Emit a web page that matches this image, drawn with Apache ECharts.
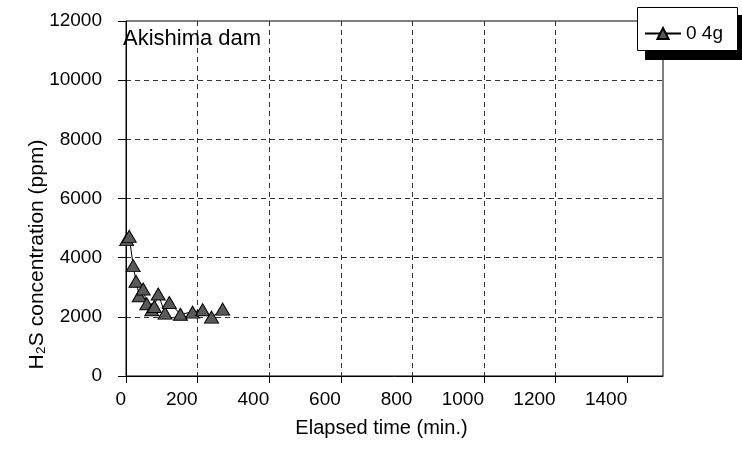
<!DOCTYPE html>
<html>
<head>
<meta charset="utf-8">
<script src="https://cdn.jsdelivr.net/npm/echarts@6/dist/echarts.min.js"></script>
<style>html,body{margin:0;padding:0;background:#fff}#c{width:742px;height:450px}</style>
</head>
<body>
<div id="c"></div>
<script>
// ---- data ----
const seriesName = '0 4g';
const chartTitle = 'Akishima dam';
const xName = 'Elapsed time (min.)';
const yName = 'H\u2082S concentration (ppm)';
const elapsedMin = [2, 9, 20, 28, 37, 48, 58, 72, 79, 90, 109, 121, 152, 186, 214, 239, 270];
const h2sPpm    = [4610, 4720, 3730, 3200, 2710, 2940, 2440, 2240, 2350, 2770, 2125, 2485, 2090, 2160, 2240, 1990, 2260];
const xTicks = [0, 200, 400, 600, 800, 1000, 1200, 1400];
const yTicks = [0, 2000, 4000, 6000, 8000, 10000, 12000];

const font = 'Liberation Sans, Arial, sans-serif';
const chart = echarts.init(document.getElementById('c'), null, {renderer: 'canvas'});
chart.setOption({
  animation: false,
  backgroundColor: '#fff',
  title: {text: chartTitle, left: 118, top: 23,
    textStyle: {fontFamily: font, fontSize: 22, fontWeight: 'normal', color: '#000'}},
  grid: {left: 126, right: 79, top: 21, bottom: 74, show: true, borderColor: '#000', borderWidth: 1, backgroundColor: 'transparent'},
  legend: {show: true, left: 639, top: 19, z: 20, itemWidth: 36, itemHeight: 14, itemGap: 4,
    textStyle: {fontFamily: font, fontSize: 19, color: '#000'}, data: [seriesName]},
  graphic: [
    {type: 'rect', z: 10, shape: {x: 645, y: 15, width: 105, height: 45}, style: {fill: '#000'}},
    {type: 'rect', z: 11, shape: {x: 637.5, y: 7.5, width: 100, height: 43}, style: {fill: '#fff', stroke: '#000', lineWidth: 1}}
  ],
  xAxis: {
    type: 'value', min: 0, max: 1500, interval: 200,
    name: xName, nameLocation: 'middle', nameGap: 42,
    nameTextStyle: {fontFamily: font, fontSize: 20, color: '#000', padding: [0, 26, 0, 0]},
    axisLine: {show: true, onZero: false, lineStyle: {color: '#000', width: 1}},
    axisTick: {show: true, inside: false, length: 7, lineStyle: {color: '#000'}, customValues: xTicks},
    axisLabel: {fontFamily: font, fontSize: 19, color: '#000', margin: 14, align: 'right', customValues: xTicks,
      formatter: v => xTicks.indexOf(v) >= 0 ? String(v) : ''},
    splitLine: {show: true, showMinLine: false, showMaxLine: false, lineStyle: {color: '#333', type: [5, 4], width: 1}}
  },
  yAxis: {
    type: 'value', min: 0, max: 12000, interval: 2000,
    name: yName, nameLocation: 'middle', nameGap: 78, nameMoveOverlap: false,
    nameTextStyle: {fontFamily: font, fontSize: 21, color: '#000', padding: [0, 112, 0, 0]},
    axisLine: {show: true, onZero: false, lineStyle: {color: '#000', width: 1}},
    axisTick: {show: true, inside: false, length: 8, lineStyle: {color: '#000'}},
    axisLabel: {fontFamily: font, fontSize: 19, color: '#000', margin: 24,
      formatter: v => yTicks.indexOf(v) >= 0 ? String(v) : ''},
    splitLine: {show: true, showMinLine: false, showMaxLine: false, lineStyle: {color: '#333', type: [5, 4], width: 1}}
  },
  series: [{
    name: seriesName, type: 'line',
    data: elapsedMin.map((t, i) => [t, h2sPpm[i]]),
    symbol: 'triangle', symbolSize: [14, 12],
    itemStyle: {color: '#595959', borderColor: '#000', borderWidth: 1},
    lineStyle: {color: '#000', width: 1},
    z: 5
  }]
});
</script>
</body>
</html>
